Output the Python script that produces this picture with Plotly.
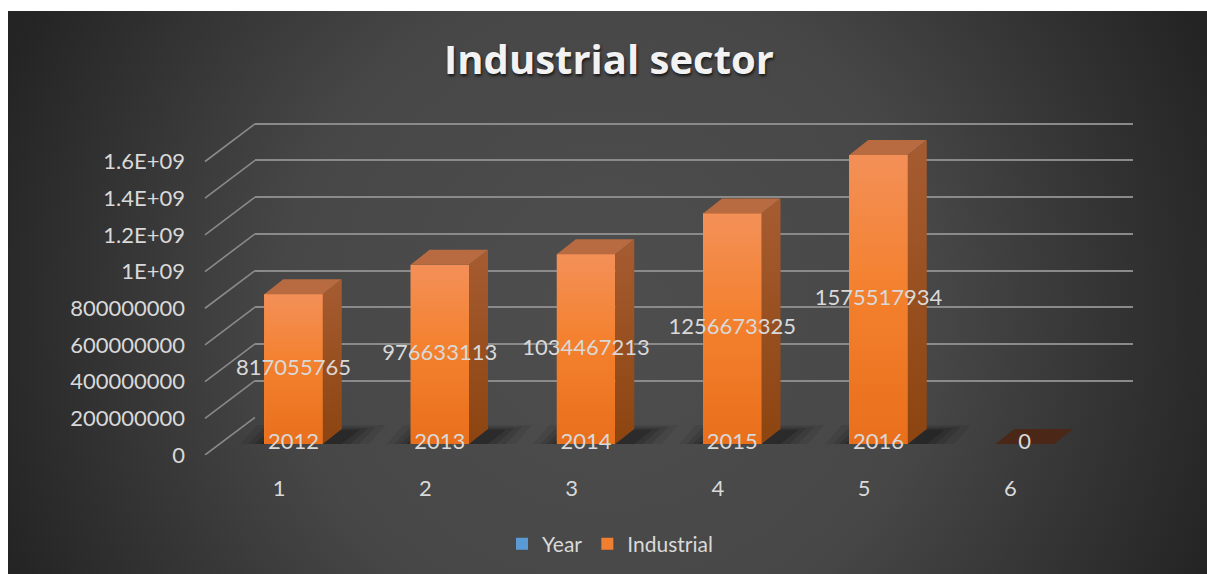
import base64
import plotly.graph_objects as go

# ---------------- data ----------------
categories = [1, 2, 3, 4, 5, 6]
category_labels = ["1", "2", "3", "4", "5", "6"]
years = [2012, 2013, 2014, 2015, 2016, None]
industrial = [817055765, 976633113, 1034467213, 1256673325, 1575517934, 0]
value_ticks = [0, 200000000, 400000000, 600000000, 800000000,
               1000000000, 1200000000, 1400000000, 1600000000]
value_tick_labels = ["0", "200000000", "400000000", "600000000", "800000000",
                     "1E+09", "1.2E+09", "1.4E+09", "1.6E+09"]

# ---------------- geometry (pixels) ----------------
W, H = 1207, 574
PX_PER_VAL = 293.5 / 1.6e9
PX_PER_CAT = 146.25
VMAX = 2.0e9
BAR_W = 0.4

def ydomain(zero_px):
    return [1 - zero_px / H, 1 - (zero_px - VMAX * PX_PER_VAL) / H]

def xrange_for(dom_px, cat1_px):
    return [1 + (dom_px[0] - cat1_px) / PX_PER_CAT, 1 + (dom_px[1] - cat1_px) / PX_PER_CAT]

BACK_ZERO = 417.3
BAR_ZERO = 444.0
FRONT_ZERO = 455.0
BAR_CAT1 = 293.5
FRONT_CAT1 = 279.0
PLANE_X = [150, 1140]
BACK_X = [255, 1133]

# bar depth
DDX = 19 / PX_PER_CAT
DDY = 15 / PX_PER_VAL
# floor depth (front -> back wall)
FDX = 50 / PX_PER_CAT
FDY = (FRONT_ZERO - BACK_ZERO) / PX_PER_VAL

TXT = "#d9d9d9"
GRID = "#8a8a8a"
FONT = "Lato"

fig = go.Figure()

# back plane (gridlines) -> xy
fig.add_trace(go.Scatter(x=[0.5], y=[0], mode="markers", marker=dict(opacity=0),
                         hoverinfo="skip", showlegend=False, xaxis="x", yaxis="y"))

# soft floor shadows -> x2y2 (same mapping as bar plane)
p = 1 / PX_PER_VAL
for grow, alpha in [(1.0, 0.08), (0.7, 0.10), (0.45, 0.13), (0.2, 0.18)]:
    sx, sy = [], []
    for c, v in zip(categories, industrial):
        if not v:
            continue
        xl, xr = c - BAR_W / 2, c + BAR_W / 2
        a = xl - 0.18 * grow
        b = xr + 0.08 + 0.22 * grow
        y_lo = -3 * grow * p
        y_hi = (13 + 6 * grow) * p
        sx += [a, b, b + DDX, a + DDX, a, None]
        sy += [y_lo, y_lo, y_hi, y_hi, y_lo, None]
    fig.add_trace(go.Scatter(x=sx, y=sy, mode="lines", fill="toself", line=dict(width=0),
                             fillcolor=f"rgba(0,0,0,{alpha})", hoverinfo="skip",
                             showlegend=False, xaxis="x2", yaxis="y2"))

# bars -> x3y3
fig.add_trace(go.Bar(x=categories, y=years, name="Year", width=BAR_W,
                     marker=dict(color="#5b9bd5", line=dict(width=0)),
                     xaxis="x3", yaxis="y3", hoverinfo="skip"))
fig.add_trace(go.Bar(x=categories, y=industrial, name="Industrial", width=BAR_W,
                     marker=dict(color="#f07f31", line=dict(width=0)),
                     xaxis="x3", yaxis="y3", hoverinfo="skip"))

# shading of the bar faces (front gradient, side, top)
for c, y0, v in zip(categories, years, industrial):
    base = y0 or 0
    top = base + v
    xl, xr = c - BAR_W / 2, c + BAR_W / 2
    if v:
        fig.add_trace(go.Scatter(
            x=[xl, xr, xr, xl, xl], y=[0, 0, top, top, 0],
            mode="lines", fill="toself", line=dict(width=0),
            fillgradient=dict(type="vertical", start=0, stop=top,
                              colorscale=[[0, "#e96f1b"], [0.55, "#f4812f"], [1, "#f39058"]]),
            hoverinfo="skip", showlegend=False, xaxis="x3", yaxis="y3"))
        fig.add_trace(go.Scatter(
            x=[xr, xr, xr + DDX, xr + DDX, xr], y=[0, top, top + DDY, DDY, 0],
            mode="lines", fill="toself", line=dict(width=0),
            fillgradient=dict(type="vertical", start=0, stop=top + DDY,
                              colorscale=[[0, "#8c4410"], [1, "#a65c31"]]),
            hoverinfo="skip", showlegend=False, xaxis="x3", yaxis="y3"))
    fig.add_trace(go.Scatter(
        x=[xl, xr, xr + DDX, xl + DDX, xl], y=[top, top, top + DDY, top + DDY, top],
        mode="lines", fill="toself", line=dict(width=0),
        fillcolor="#b86a40" if v else "#4a2716",
        hoverinfo="skip", showlegend=False, xaxis="x3", yaxis="y3"))

# data labels
fig.add_trace(go.Scatter(
    x=[c for c, y0 in zip(categories, years) if y0 is not None],
    y=[y0 / 2 for y0 in years if y0 is not None],
    text=[str(y0) for y0 in years if y0 is not None],
    mode="text", textposition="middle center",
    textfont=dict(family=FONT, size=22, color=TXT),
    cliponaxis=False, hoverinfo="skip", showlegend=False, xaxis="x3", yaxis="y3"))
fig.add_trace(go.Scatter(
    x=categories,
    y=[(y0 or 0) + v / 2 for y0, v in zip(years, industrial)],
    text=[str(v) for v in industrial],
    mode="text", textposition="middle center",
    textfont=dict(family=FONT, size=22, color=TXT),
    cliponaxis=False, hoverinfo="skip", showlegend=False, xaxis="x3", yaxis="y3"))

# front plane: slanted floor/wall lines -> x4y4
xf = 1 + (205 - FRONT_CAT1) / PX_PER_CAT
lx, ly = [], []
for t in value_ticks:
    lx += [xf, xf + FDX, None]
    ly += [t, t + FDY, None]
fig.add_trace(go.Scatter(x=lx, y=ly, mode="lines", line=dict(color=GRID, width=1.6),
                         hoverinfo="skip", showlegend=False, xaxis="x4", yaxis="y4"))

hidden = dict(showgrid=False, zeroline=False, showline=False, showticklabels=False,
              ticks="", automargin=False)

bg_svg = (
    '<svg xmlns="http://www.w3.org/2000/svg" width="1199" height="563">'
    '<defs><radialGradient id="g" gradientUnits="userSpaceOnUse" cx="600" cy="300" r="650">'
    '<stop offset="0" stop-color="#4e4e4e"/><stop offset="0.5" stop-color="#474747"/>'
    '<stop offset="1" stop-color="#242424"/></radialGradient></defs>'
    '<rect width="1199" height="563" fill="url(#g)"/></svg>'
)
bg_uri = "data:image/svg+xml;base64," + base64.b64encode(bg_svg.encode()).decode()

fig.update_layout(
    template="none",
    width=W, height=H, autosize=False,
    margin=dict(l=0, r=0, t=0, b=0, pad=0),
    paper_bgcolor="white", plot_bgcolor="rgba(0,0,0,0)",
    barmode="stack", showlegend=True,
    font=dict(family=FONT, color=TXT, size=21),
    title=dict(text="Industrial sector", x=609 / W, xanchor="center",
               y=1 - 60 / H, yanchor="middle", yref="container", automargin=False,
               font=dict(family="Open Sans", size=40, color="#f2f2f2",
                         weight="bold", shadow="1px 2px 3px rgba(0,0,0,0.7)")),
    legend=dict(orientation="h", x=610 / W, xanchor="center", y=1 - 544 / H,
                yanchor="middle", bgcolor="rgba(0,0,0,0)", traceorder="normal",
                font=dict(family=FONT, size=21, color=TXT)),
    xaxis=dict(domain=[BACK_X[0] / W, BACK_X[1] / W], range=[0, 1], anchor="y", **hidden),
    yaxis=dict(domain=ydomain(BACK_ZERO), range=[0, VMAX], anchor="x",
               showgrid=True, gridcolor=GRID, gridwidth=1.6, tickvals=value_ticks,
               zeroline=False, showline=False, showticklabels=False, ticks="",
               automargin=False),
    xaxis2=dict(domain=[PLANE_X[0] / W, PLANE_X[1] / W], range=xrange_for(PLANE_X, BAR_CAT1),
                anchor="y2", **hidden),
    yaxis2=dict(domain=ydomain(BAR_ZERO), range=[0, VMAX], anchor="x2", **hidden),
    xaxis3=dict(domain=[PLANE_X[0] / W, PLANE_X[1] / W], range=xrange_for(PLANE_X, BAR_CAT1),
                anchor="y3", **hidden),
    yaxis3=dict(domain=ydomain(BAR_ZERO), range=[0, VMAX], anchor="x3", **hidden),
    xaxis4=dict(domain=[PLANE_X[0] / W, PLANE_X[1] / W], range=xrange_for(PLANE_X, FRONT_CAT1),
                anchor="y4", showgrid=False, zeroline=False, showline=False, ticks="",
                tickvals=categories, ticktext=category_labels, ticklabelstandoff=18,
                automargin=False, tickfont=dict(family=FONT, size=22, color=TXT)),
    yaxis4=dict(domain=ydomain(FRONT_ZERO), range=[0, VMAX], anchor="free",
                position=205 / W, showgrid=False, zeroline=False, showline=False, ticks="",
                tickvals=value_ticks, ticktext=value_tick_labels, ticklabelstandoff=20,
                automargin=False, tickfont=dict(family=FONT, size=22, color=TXT)),
    images=[dict(source=bg_uri, xref="paper", yref="paper", x=8 / W, y=1 - 11 / H,
                 sizex=(W - 8) / W, sizey=(H - 11) / H, xanchor="left", yanchor="top",
                 sizing="stretch", layer="below")],
)

fig.write_html("out.html")
